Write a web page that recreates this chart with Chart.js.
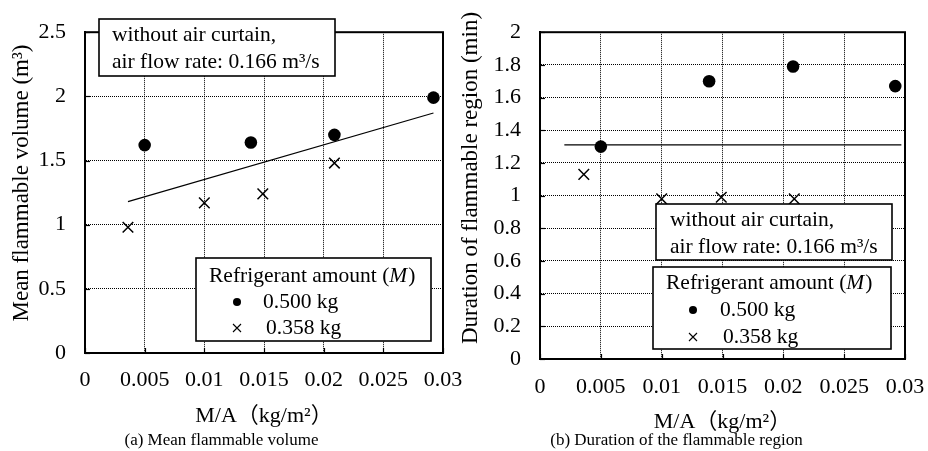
<!DOCTYPE html>
<html><head><meta charset="utf-8">
<script src="https://cdn.jsdelivr.net/npm/chart.js@4.4.1/dist/chart.umd.min.js"></script>
<style>
html,body{margin:0;padding:0;background:#fff;}
#wrap{position:relative;width:928px;height:451px;overflow:hidden;}
.c{position:absolute;top:0;height:451px;}
</style></head><body>
<div id="wrap">
<div class="c" style="left:0;width:464px"><canvas id="c1"></canvas></div>
<div class="c" style="left:448px;width:480px"><canvas id="c2"></canvas></div>
</div>
<script>
// ---------- data ----------
const seriesLabels = ['0.500 kg', '0.358 kg'];
const xTicks = [0, 0.005, 0.01, 0.015, 0.02, 0.025, 0.03];
// (a) Mean flammable volume
const aYTicks = [0, 0.5, 1, 1.5, 2, 2.5];
const aX500 = [0.0050, 0.0139, 0.0209, 0.0292];
const aY500 = [1.62, 1.64, 1.70, 1.99];
const aX358 = [0.0036, 0.0100, 0.0149, 0.0209];
const aY358 = [0.98, 1.17, 1.24, 1.48];
const aTrendX = [0.0036, 0.0292];
const aTrendY = [1.18, 1.87];
// (b) Duration of the flammable region
const bYTicks = [0, 0.2, 0.4, 0.6, 0.8, 1, 1.2, 1.4, 1.6, 1.8, 2];
const bX500 = [0.0050, 0.0139, 0.0208, 0.0292];
const bY500 = [1.30, 1.70, 1.79, 1.67];
const bX358 = [0.0036, 0.0100, 0.0149, 0.0209];
const bY358 = [1.13, 0.98, 0.99, 0.98];
const bMeanX = [0.0020, 0.0297];
const bMeanY = [1.31, 1.31];

const annotLines = ['without air curtain,', 'air flow rate: 0.166 m\u00B3/s'];
const legendTitle = ['Refrigerant amount (', 'M', ')'];

// ---------- helpers ----------
const FONT = "'Liberation Serif', 'Times New Roman', 'Noto Sans CJK JP', serif";
const pts = (xs, ys) => xs.map((x, i) => ({x: x, y: ys[i]}));
const fmt = v => String(+(+v).toFixed(4));

function drawBox(ctx, b) {
  ctx.save();
  ctx.fillStyle = '#fff';
  ctx.fillRect(b.x, b.y, b.w, b.h);
  ctx.strokeStyle = '#000';
  ctx.lineWidth = 1.6;
  ctx.strokeRect(b.x, b.y, b.w, b.h);
  ctx.restore();
}

const boxPlugin = {
  id: 'boxes',
  afterDraw(chart, args, opts) {
    const ctx = chart.ctx, a = chart.chartArea;
    const xs = chart.scales.x, ys = chart.scales.y;
    ctx.save();
    ctx.strokeStyle = '#000';
    ctx.lineWidth = 1.2;
    xs.ticks.forEach(t => {
      const px = Math.round(xs.getPixelForValue(t.value)) + 0.5;
      ctx.beginPath(); ctx.moveTo(px, a.bottom); ctx.lineTo(px, a.bottom - 5); ctx.stroke();
    });
    ys.ticks.forEach(t => {
      const py = Math.round(ys.getPixelForValue(t.value)) + 0.5;
      ctx.beginPath(); ctx.moveTo(a.left, py); ctx.lineTo(a.left + 5, py); ctx.stroke();
    });
    ctx.lineWidth = 2;
    ctx.strokeRect(a.left, a.top, a.right - a.left, a.bottom - a.top);

    // y axis title
    ctx.save();
    ctx.fillStyle = '#000';
    ctx.font = '23px ' + FONT;
    ctx.textAlign = 'center';
    ctx.textBaseline = 'middle';
    ctx.translate(opts.yt.x, opts.yt.y);
    ctx.rotate(-Math.PI / 2);
    ctx.fillText(opts.yt.text, 0, 0);
    ctx.restore();

    const f = '21.5px ' + FONT, fi = 'italic 21.5px ' + FONT;
    const an = opts.annot;
    drawBox(ctx, an);
    ctx.fillStyle = '#000';
    ctx.textBaseline = 'middle';
    ctx.textAlign = 'left';
    ctx.font = f;
    ctx.fillText(annotLines[0], an.tx, an.ty1);
    ctx.fillText(annotLines[1], an.tx, an.ty2);

    const lg = opts.legend;
    drawBox(ctx, lg);
    ctx.fillStyle = '#000';
    let x = lg.tx;
    ctx.font = f; ctx.fillText(legendTitle[0], x, lg.ty); x += ctx.measureText(legendTitle[0]).width;
    ctx.font = fi; ctx.fillText(legendTitle[1], x, lg.ty); x += ctx.measureText(legendTitle[1]).width + 1;
    ctx.font = f; ctx.fillText(legendTitle[2], x, lg.ty);
    const ds = chart.data.datasets;
    ctx.beginPath(); ctx.arc(lg.mx, lg.y1, 4, 0, Math.PI * 2); ctx.fill();
    ctx.fillText(ds[0].label, lg.lx, lg.y1);
    ctx.lineWidth = 1.1;
    ctx.beginPath();
    ctx.moveTo(lg.mx - 4, lg.y2 - 4); ctx.lineTo(lg.mx + 4, lg.y2 + 4);
    ctx.moveTo(lg.mx + 4, lg.y2 - 4); ctx.lineTo(lg.mx - 4, lg.y2 + 4);
    ctx.stroke();
    ctx.fillText(ds[1].label, lg.lx + 3, lg.y2);
    ctx.restore();
  }
};

function makeChart(id, c) {
  const datasets = [
    {label: seriesLabels[0], data: pts(c.x500, c.y500), pointStyle: 'circle', pointRadius: 6.3,
     backgroundColor: '#000', borderColor: '#000', borderWidth: 0, showLine: false},
    {label: seriesLabels[1], data: pts(c.x358, c.y358), pointStyle: 'crossRot', pointRadius: 7.5,
     backgroundColor: '#000', borderColor: '#000', borderWidth: 1.5, showLine: false},
    {label: 'fit', data: pts(c.lx, c.ly), showLine: true, pointRadius: 0,
     borderColor: '#000', borderWidth: 1.2, fill: false}
  ];
  return new Chart(document.getElementById(id), {
    type: 'scatter',
    data: {datasets},
    options: {
      responsive: true, maintainAspectRatio: false, animation: false, devicePixelRatio: 1,
      layout: {padding: {left: 0, top: c.top, right: c.right, bottom: 0}},
      plugins: {
        legend: {display: false}, tooltip: {enabled: false},
        title: {display: true, position: 'bottom', text: c.caption, color: '#000',
                font: {family: FONT, size: 17, weight: 'normal', lineHeight: 1.2}, padding: {top: 0, bottom: 0}},
        boxes: {annot: c.annot, legend: c.legend, yt: c.yt}
      },
      scales: {
        x: {
          type: 'linear', min: 0, max: 0.03,
          afterBuildTicks: s => { s.ticks = xTicks.map(v => ({value: v})); },
          afterFit: s => { s.height = c.xh; s.paddingLeft = 0; s.paddingRight = 0; },
          grid: {color: '#000', lineWidth: 1, drawTicks: false},
          border: {display: true, color: '#000', width: 2, dash: [1, 1]},
          ticks: {color: '#000', padding: c.xpad, maxRotation: 0, autoSkip: false,
                  font: {family: FONT, size: 22}, callback: v => fmt(v)},
          title: {display: true, text: 'M/A\uFF08kg/m\u00B2\uFF09', color: '#000',
                  font: {family: FONT, size: 22, lineHeight: 1}, padding: {top: 0, bottom: c.xtpad}}
        },
        y: {
          type: 'linear', min: 0, max: c.ymax,
          afterBuildTicks: s => { s.ticks = c.yticks.map(v => ({value: v})); },
          afterFit: s => { s.width = c.yw; },
          grid: {color: '#000', lineWidth: 1, drawTicks: false},
          border: {display: true, color: '#000', width: 2, dash: [1, 1]},
          ticks: {color: '#000', padding: 19, autoSkip: false,
                  font: {family: FONT, size: 22}, callback: v => fmt(v)},
          title: {display: false}
        }
      }
    },
    plugins: [boxPlugin]
  });
}

makeChart('c1', {
  x500: aX500, y500: aY500, x358: aX358, y358: aY358, lx: aTrendX, ly: aTrendY,
  ymax: 2.5, yticks: aYTicks,
  yt: {text: 'Mean flammable volume (m\u00B3)', x: 22, y: 183},
  caption: '(a) Mean flammable volume',
  top: 14, right: 21, yw: 85, xh: 77.6, xpad: 14, xtpad: 3, ytpad: 10.5,
  annot: {x: 99, y: 19, w: 236, h: 57, tx: 112, ty1: 35, ty2: 62},
  legend: {x: 196, y: 258, w: 235, h: 83, tx: 209, ty: 276, mx: 237, y1: 302, y2: 328, lx: 263}
});

makeChart('c2', {
  x500: bX500, y500: bY500, x358: bX358, y358: bY358, lx: bMeanX, ly: bMeanY,
  ymax: 2, yticks: bYTicks,
  yt: {text: 'Duration of flammable region (min)', x: 23, y: 178},
  caption: '(b) Duration of the flammable region',
  top: 12, right: 23, yw: 92, xh: 71.6, xpad: 15, xtpad: -3, ytpad: 11.5,
  annot: {x: 208, y: 204, w: 236, h: 56, tx: 222, ty1: 220, ty2: 247},
  legend: {x: 205, y: 267, w: 238, h: 82, tx: 218, ty: 283, mx: 245, y1: 310, y2: 337, lx: 272}
});
</script>
</body></html>
